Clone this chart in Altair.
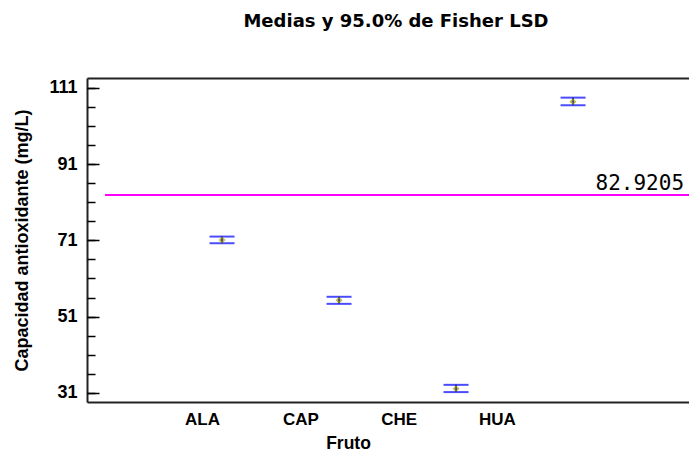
import altair as alt
import pandas as pd

# ---- data ----
frutos = ["ALA", "CAP", "CHE", "HUA"]
posiciones = [1, 2, 3, 4]
medias = [71.1, 55.3, 32.1, 107.4]
limite_inferior = [70.25, 54.35, 31.2, 106.45]
limite_superior = [72.0, 56.2, 33.1, 108.45]
gran_media = 82.9205
gran_media_texto = "82.9205"
linea_inicio = [0]
linea_fin = [5]
y_mayores = [31, 51, 71, 91, 111]
y_menores = [31, 36, 41, 46, 51, 56, 61, 66, 71, 76, 81, 86, 91, 96, 101, 106, 111]

# ---- scale settings ----
Y_DOM = [28.6, 113.6]
X_DOM = [-0.154, 4.991]
LBL_DOM = [-0.17, 5.953]
W, H = 602, 324
FONT = "Liberation Sans"

df = pd.DataFrame({"Fruto": frutos, "pos": posiciones, "media": medias,
                   "lo": limite_inferior, "hi": limite_superior})
lsd = pd.DataFrame({"x": linea_inicio, "x2": linea_fin, "y": [gran_media],
                    "label": [gran_media_texto]})

xs = alt.Scale(domain=X_DOM, nice=False, zero=False)
ys = alt.Scale(domain=Y_DOM, nice=False, zero=False)

label_expr = "[" + ",".join(["''"] + ["'%s'" % f for f in frutos]) + "][datum.value]"

# invisible layer that carries the category axis (bottom frame)
etiquetas = alt.Chart(df).mark_point(opacity=0).encode(
    x=alt.X("pos:Q", scale=alt.Scale(domain=LBL_DOM, nice=False, zero=False),
            axis=alt.Axis(orient="bottom", values=posiciones, labelExpr=label_expr,
                          title="Fruto", ticks=False, domain=True, domainColor="#222",
                          domainWidth=2, grid=False, labelFont=FONT, labelFontSize=17,
                          labelFontWeight="bold", labelColor="black", labelPadding=9,
                          labelFlush=False, titleFont=FONT, titleFontSize=17.5,
                          titleFontWeight="bold", titleColor="black", titleX=261,
                          titleY=46, titleBaseline="alphabetic", titleAlign="center")),
    y=alt.Y("media:Q", scale=ys, axis=None),
)

cap_lo = alt.Chart(df).mark_tick(orient="horizontal", size=25, thickness=2,
                                 color="#0000FF").encode(
    x=alt.X("pos:Q", scale=xs,
            axis=alt.Axis(orient="top", labels=False, ticks=False, domain=True,
                          domainColor="#222", domainWidth=2, grid=False, title=None)),
    y=alt.Y("lo:Q", scale=ys,
            axis=alt.Axis(orient="left", values=y_mayores, ticks=False, tickSize=0,
                          domain=True, domainColor="#222", domainWidth=2, grid=False,
                          labelFont=FONT, labelFontSize=18, labelFontWeight="bold",
                          labelColor="black", labelPadding=10,
                          title="Capacidad antioxidante (mg/L)", titleFont=FONT,
                          titleFontSize=18, titleFontWeight="bold", titleColor="black",
                          titleX=-65, titleY=H / 2, titleAngle=-90, titleAlign="center",
                          titleBaseline="middle")),
)

cap_hi = alt.Chart(df).mark_tick(orient="horizontal", size=25, thickness=2,
                                 color="#0000FF").encode(
    x=alt.X("pos:Q", scale=xs, axis=None),
    y=alt.Y("hi:Q", scale=ys, axis=None),
)

tallo = alt.Chart(df).mark_rule(color="#000080", strokeWidth=1.5).encode(
    x=alt.X("pos:Q", scale=xs, axis=None),
    y=alt.Y("lo:Q", scale=ys, axis=None),
    y2="hi:Q",
)

puntos = alt.Chart(df).mark_point(shape="diamond", size=22, filled=False,
                                  color="#999900", strokeWidth=1.5).encode(
    x=alt.X("pos:Q", scale=xs, axis=None),
    y=alt.Y("media:Q", scale=ys, axis=None),
)

linea = alt.Chart(lsd).mark_rule(color="#FF00FF", strokeWidth=2, clip=True).encode(
    x=alt.X("x:Q", scale=xs, axis=None),
    x2="x2:Q",
    y=alt.Y("y:Q", scale=ys,
            axis=alt.Axis(orient="right", offset=-W, values=y_mayores, labels=False,
                          ticks=True, tickSize=12, tickWidth=1.5, tickColor="black",
                          domain=False, grid=False, title=None)),
)

texto = alt.Chart(lsd).mark_text(align="right", baseline="bottom", dx=-6, dy=-1,
                                 font="DejaVu Sans Mono", fontSize=21,
                                 fontWeight="normal", color="black").encode(
    x=alt.X("x2:Q", scale=xs, axis=None),
    y=alt.Y("y:Q", scale=ys,
            axis=alt.Axis(orient="right", offset=-W, values=y_menores, labels=False,
                          ticks=True, tickSize=8, tickWidth=1.5, tickColor="black",
                          domain=False, grid=False, title=None)),
    text="label:N",
)

chart = alt.layer(etiquetas, cap_lo, cap_hi, tallo, puntos, linea, texto).resolve_scale(
    x="independent", y="shared"
).resolve_axis(x="independent", y="independent").properties(
    width=W, height=H,
    autosize="none",
    padding={"left": 79, "top": 70, "right": 0, "bottom": 49},
    title=alt.TitleParams("Medias y 95.0% de Fisher LSD", font="DejaVu Sans",
                          fontSize=18, fontWeight="bold", color="black",
                          anchor="middle", dx=8, offset=47),
).configure_view(stroke=None).configure(background="white")

chart.save("out.html", embed_options={"renderer": "svg", "actions": False})
